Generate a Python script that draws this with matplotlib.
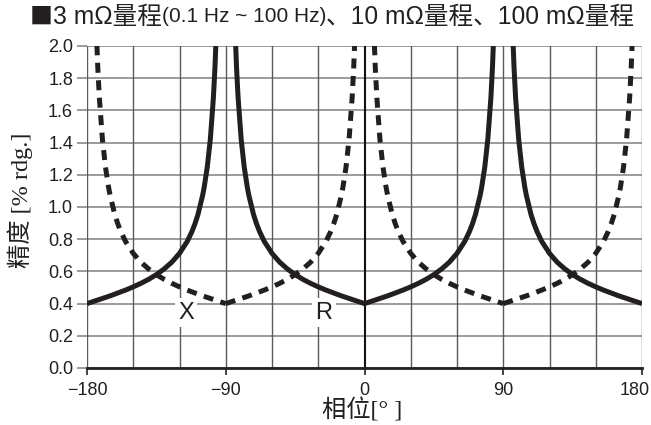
import numpy as np
import matplotlib
matplotlib.use("Agg")
import matplotlib.pyplot as plt
import matplotlib.transforms as mtrans
from matplotlib import font_manager

# ---- data ----
# one quarter profile of the accuracy curve: offset from the minimum [deg] -> accuracy [% rdg.]
profile_offset = [0, 5, 10, 15, 20, 25, 30, 35, 40, 45, 50, 55, 60, 65, 68, 70, 72,
                  75, 76, 78, 80, 82, 83, 84]
profile_value = [0.400, 0.416, 0.432, 0.448, 0.466, 0.484, 0.504, 0.526, 0.551, 0.580,
                 0.615, 0.657, 0.712, 0.786, 0.846, 0.895, 0.954, 1.072, 1.122, 1.247,
                 1.421, 1.681, 1.866, 2.113]
# minima of R (solid) and X (dashed) curves
r_minima = [-180, 0, 180]
x_minima = [-90, 90]

x_ticks = [-180, -90, 0, 90, 180]
y_ticks = [0.0, 0.2, 0.4, 0.6, 0.8, 1.0, 1.2, 1.4, 1.6, 1.8, 2.0]
x_grid = [-180, -150, -120, -90, -60, -30, 0, 30, 60, 90, 120, 150, 180]

title_parts = [("■", 16.5, "cjk"), ("3 mΩ量程", 17.7, "regular"),
               ("(0.1 Hz ~ 100 Hz)", 15, "narrow"),
               ("、10 mΩ量程、100 mΩ量程", 17.7, "regular")]
xlabel = "相位[° ]"
ylabel = "精度 [% rdg.]"

# ---- fonts ----
avail = {f.name for f in font_manager.fontManager.ttflist}
narrow = "Liberation Sans Narrow" if "Liberation Sans Narrow" in avail else "Liberation Sans"
cjk = "Noto Sans CJK SC"

off = np.array(profile_offset, dtype=float)
val = np.array(profile_value, dtype=float)


def segments(minima, lo=-180, hi=180):
    segs = []
    for m in minima:
        if m - 1 >= lo:
            segs.append((m - off[::-1], val[::-1]))
        if m + 1 <= hi:
            segs.append((m + off, val))
    return segs


fig = plt.figure(figsize=(6.51, 4.25), dpi=100)
ax = fig.add_axes([87 / 651, 57 / 425, 555 / 651, 322 / 425])
ax.set_xlim(-180, 180)
ax.set_ylim(0, 2.0)

# grid
for y in y_ticks:
    ax.axhline(y, color="#8a8a8a", lw=1.2, zorder=1)
for x in x_grid:
    c = "#111111" if x == 0 else "#5a5a5a"
    w = 1.5 if x == 0 else 1.0
    ax.axvline(x, color=c, lw=w, zorder=1)

for spine in ["top", "right", "left"]:
    ax.spines[spine].set_visible(False)
ax.spines["bottom"].set_linewidth(2.0)
ax.spines["bottom"].set_color("#222222")
ax.spines["bottom"].set_zorder(3)

# curves
for xs, ys in segments(r_minima):
    ax.plot(xs, ys, color="#231f20", lw=3.6, solid_capstyle="butt", zorder=4)
for xs, ys in segments(x_minima):
    ax.plot(xs, ys, color="#231f20", lw=3.6, dashes=(2.0, 1.5),
            dash_capstyle="butt", zorder=4)

# labels on curves
bb = dict(facecolor="white", edgecolor="none", pad=2.5)
ax.text(-115.8, 0.342, "X", ha="center", va="center", fontsize=17,
        family=narrow, color="#231f20", bbox=bb, zorder=5)
ax.text(-26.3, 0.342, "R", ha="center", va="center", fontsize=17,
        family=narrow, color="#231f20", bbox=bb, zorder=5)

# ticks
ax.set_xticks(x_ticks)
ax.set_xticklabels(["\u2212180", "\u221290", "0", "90", "180"])
ax.set_yticks(y_ticks)
ax.set_yticklabels([f"{v:.1f}" for v in y_ticks])
ax.tick_params(axis="y", length=7, width=1.2, color="#8a8a8a", pad=3,
               labelsize=13, labelcolor="#231f20")
ax.tick_params(axis="x", length=5, width=1.2, color="#222222", pad=5,
               labelsize=13, labelcolor="#231f20")
for lab in ax.get_xticklabels() + ax.get_yticklabels():
    lab.set_family(narrow)
xl = ax.get_xticklabels()
xl[-1].set_horizontalalignment("right")
xl[-1].set_transform(xl[-1].get_transform()
                     + mtrans.ScaledTranslation(8 / 100, 0, fig.dpi_scale_trans))

fig.text(362 / 651, 1 - 410 / 425, xlabel, ha="center", va="center",
         fontsize=17.5, family=["Liberation Serif", cjk], color="#231f20")
fig.text(20 / 651, 1 - 200 / 425, ylabel, ha="center", va="center",
         rotation=90, fontsize=17.5, family=["Liberation Serif", cjk], color="#231f20")

# title made of pieces of different size
fig.canvas.draw()
renderer = fig.canvas.get_renderer()
x0 = 30
ycen = 1 - 17 / 425
for txt, size, kind in title_parts:
    if kind == "narrow":
        fam = [narrow, cjk]
    elif kind == "cjk":
        fam = [cjk]
    else:
        fam = ["Liberation Sans", cjk]
    t = fig.text(x0 / 651, ycen, txt, ha="left", va="center", fontsize=size,
                 family=fam, color="#231f20")
    ext = t.get_window_extent(renderer)
    x0 += ext.width

fig.savefig("out.png", dpi=100)
